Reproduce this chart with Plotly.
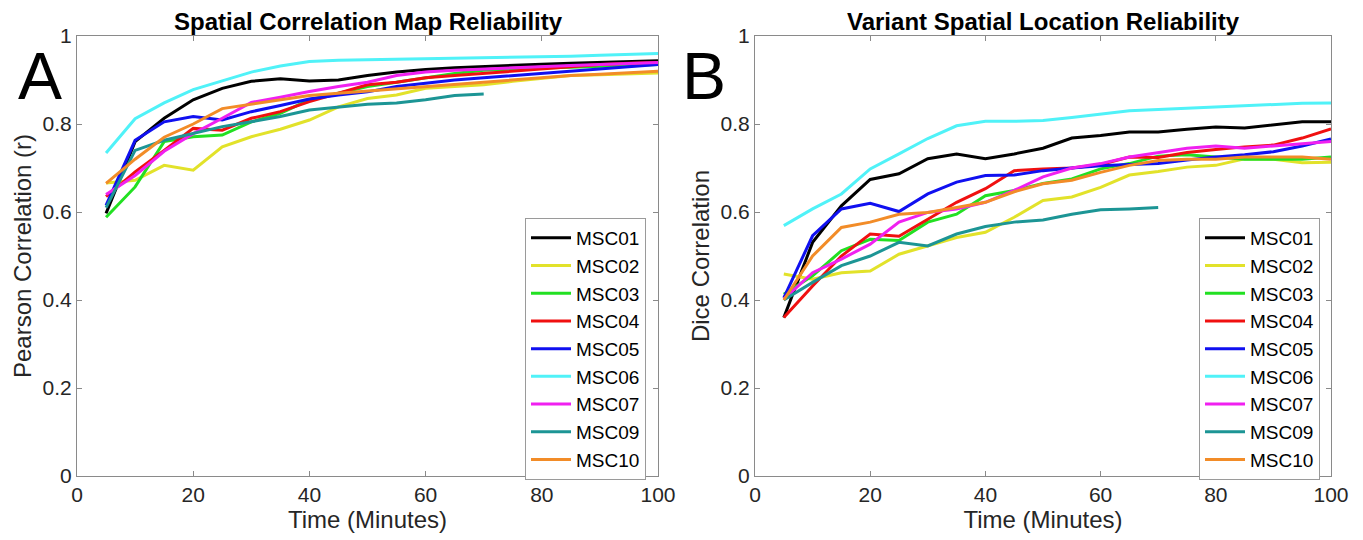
import plotly.graph_objects as go

# ---------------- data ----------------
subjects = ["MSC01", "MSC02", "MSC03", "MSC04", "MSC05", "MSC06", "MSC07", "MSC09", "MSC10"]
colors = ["#000000", "#e2e22a", "#22e022", "#f01010", "#1010f0", "#50f2f8", "#f020f0", "#1c9595", "#f28c28"]

time_full = [5, 10, 15, 20, 25, 30, 35, 40, 45, 50, 55, 60, 65, 70, 75, 80, 85, 90, 95, 100]
time_msc09 = [5, 10, 15, 20, 25, 30, 35, 40, 45, 50, 55, 60, 65, 70]

# Panel A: Pearson correlation (spatial correlation map reliability)
pearson_msc01 = [0.597, 0.760, 0.813, 0.855, 0.881, 0.897, 0.903, 0.898, 0.900, 0.910, 0.918, 0.924, 0.928, 0.931, 0.934, 0.936, 0.938, 0.940, 0.942, 0.944]
pearson_msc02 = [0.666, 0.672, 0.706, 0.695, 0.748, 0.771, 0.788, 0.809, 0.839, 0.858, 0.866, 0.881, 0.885, 0.889, 0.897, 0.904, 0.910, 0.912, 0.914, 0.916]
pearson_msc03 = [0.588, 0.657, 0.760, 0.771, 0.775, 0.805, 0.824, 0.855, 0.870, 0.885, 0.895, 0.905, 0.915, 0.922, 0.925, 0.927, 0.929, 0.931, 0.933, 0.935]
pearson_msc04 = [0.635, 0.691, 0.740, 0.790, 0.786, 0.813, 0.828, 0.851, 0.870, 0.889, 0.895, 0.905, 0.910, 0.915, 0.920, 0.925, 0.930, 0.935, 0.938, 0.940]
pearson_msc05 = [0.615, 0.763, 0.805, 0.817, 0.809, 0.828, 0.842, 0.857, 0.866, 0.873, 0.885, 0.893, 0.900, 0.905, 0.910, 0.915, 0.920, 0.925, 0.930, 0.935]
pearson_msc06 = [0.734, 0.812, 0.848, 0.878, 0.898, 0.918, 0.932, 0.942, 0.945, 0.946, 0.947, 0.948, 0.950, 0.951, 0.952, 0.953, 0.954, 0.956, 0.958, 0.960]
pearson_msc07 = [0.640, 0.683, 0.738, 0.778, 0.813, 0.849, 0.861, 0.874, 0.885, 0.895, 0.910, 0.918, 0.922, 0.925, 0.928, 0.930, 0.933, 0.935, 0.937, 0.940]
pearson_msc09 = [0.610, 0.740, 0.763, 0.778, 0.794, 0.805, 0.817, 0.832, 0.839, 0.845, 0.848, 0.855, 0.865, 0.868]
pearson_msc10 = [0.665, 0.720, 0.770, 0.800, 0.835, 0.845, 0.855, 0.865, 0.870, 0.875, 0.880, 0.885, 0.890, 0.895, 0.900, 0.905, 0.910, 0.913, 0.916, 0.920]

# Panel B: Dice correlation (variant spatial location reliability)
dice_msc01 = [0.360, 0.531, 0.614, 0.674, 0.687, 0.721, 0.732, 0.721, 0.732, 0.745, 0.768, 0.774, 0.782, 0.782, 0.788, 0.793, 0.791, 0.798, 0.805, 0.805]
dice_msc02 = [0.459, 0.447, 0.462, 0.466, 0.504, 0.523, 0.542, 0.554, 0.588, 0.626, 0.634, 0.656, 0.684, 0.692, 0.702, 0.706, 0.721, 0.720, 0.712, 0.713]
dice_msc03 = [0.413, 0.455, 0.512, 0.538, 0.535, 0.577, 0.595, 0.637, 0.649, 0.665, 0.675, 0.698, 0.710, 0.727, 0.730, 0.725, 0.720, 0.720, 0.720, 0.725]
dice_msc04 = [0.360, 0.432, 0.500, 0.550, 0.545, 0.584, 0.622, 0.653, 0.694, 0.698, 0.700, 0.708, 0.725, 0.724, 0.735, 0.742, 0.748, 0.752, 0.768, 0.789]
dice_msc05 = [0.405, 0.546, 0.607, 0.620, 0.601, 0.641, 0.668, 0.683, 0.684, 0.694, 0.700, 0.705, 0.708, 0.710, 0.718, 0.725, 0.730, 0.737, 0.750, 0.766]
dice_msc06 = [0.569, 0.607, 0.641, 0.698, 0.732, 0.767, 0.796, 0.806, 0.806, 0.808, 0.815, 0.822, 0.830, 0.833, 0.836, 0.839, 0.841, 0.844, 0.847, 0.848]
dice_msc07 = [0.402, 0.462, 0.493, 0.527, 0.577, 0.599, 0.607, 0.622, 0.649, 0.680, 0.700, 0.710, 0.725, 0.735, 0.745, 0.750, 0.745, 0.750, 0.755, 0.760]
dice_msc09 = [0.400, 0.440, 0.478, 0.500, 0.531, 0.523, 0.550, 0.567, 0.577, 0.582, 0.595, 0.605, 0.607, 0.610]
dice_msc10 = [0.400, 0.500, 0.565, 0.577, 0.595, 0.599, 0.610, 0.622, 0.646, 0.664, 0.672, 0.690, 0.706, 0.717, 0.720, 0.720, 0.725, 0.725, 0.725, 0.720]

pearson_series = [pearson_msc01, pearson_msc02, pearson_msc03, pearson_msc04, pearson_msc05,
                  pearson_msc06, pearson_msc07, pearson_msc09, pearson_msc10]
dice_series = [dice_msc01, dice_msc02, dice_msc03, dice_msc04, dice_msc05,
               dice_msc06, dice_msc07, dice_msc09, dice_msc10]

x_ticks = [0, 20, 40, 60, 80, 100]
y_ticks = [0, 0.2, 0.4, 0.6, 0.8, 1]
y_tick_text = ["0", "0.2", "0.4", "0.6", "0.8", "1"]

# ---------------- figure ----------------
W, H = 1363, 540
OFF = 8  # page body margin offset


def fx(px):
    return (px - OFF) / W


def fy(py):
    return 1 - (py - OFF) / H


FONT = "Liberation Sans, Arial, Helvetica, sans-serif"
fig = go.Figure()

for name, col, ys in zip(subjects, colors, pearson_series):
    xs = time_msc09 if name == "MSC09" else time_full
    fig.add_trace(go.Scatter(x=xs, y=ys, mode="lines", name=name,
                             line=dict(color=col, width=3),
                             xaxis="x", yaxis="y", legend="legend"))
for name, col, ys in zip(subjects, colors, dice_series):
    xs = time_msc09 if name == "MSC09" else time_full
    fig.add_trace(go.Scatter(x=xs, y=ys, mode="lines", name=name,
                             line=dict(color=col, width=3),
                             xaxis="x2", yaxis="y2", legend="legend2"))

axis_common = dict(
    showline=True, linecolor="#8a8a8a", linewidth=1, mirror="ticks",
    ticks="inside", ticklen=5, tickcolor="#8a8a8a", tickwidth=1,
    showgrid=False, zeroline=False, automargin=False,
    tickfont=dict(family=FONT, size=21, color="#262626"),
)
title_font = dict(size=24, family=FONT, color="#262626")

ydom = [fy(476), fy(36)]
legend_common = dict(xanchor="left", yanchor="top",
                     bgcolor="white", bordercolor="#9a9a9a", borderwidth=1,
                     font=dict(family=FONT, size=19, color="#000000"),
                     itemwidth=40, tracegroupgap=0)
fig.update_layout(
    width=W, height=H,
    margin=dict(l=0, r=0, t=0, b=0),
    paper_bgcolor="white", plot_bgcolor="white",
    font=dict(family=FONT, color="#262626"),
    xaxis=dict(domain=[fx(77), fx(658)], range=[0, 100], tickvals=x_ticks,
               title=dict(text="Time (Minutes)", font=title_font, standoff=4),
               anchor="y", **axis_common),
    yaxis=dict(domain=ydom, range=[0, 1], tickvals=y_ticks, ticktext=y_tick_text,
               title=dict(text="Pearson Correlation (r)", font=title_font, standoff=4),
               anchor="x", **axis_common),
    xaxis2=dict(domain=[fx(755), fx(1331)], range=[0, 100], tickvals=x_ticks,
                title=dict(text="Time (Minutes)", font=title_font, standoff=4),
                anchor="y2", **axis_common),
    yaxis2=dict(domain=ydom, range=[0, 1], tickvals=y_ticks, ticktext=y_tick_text,
                title=dict(text="Dice Correlation", font=title_font, standoff=4),
                anchor="x2", **axis_common),
    legend=dict(x=fx(525), y=fy(218), **legend_common),
    legend2=dict(x=fx(1199), y=fy(218), **legend_common),
    showlegend=True,
)

annotations = [
    dict(text="<b>Spatial Correlation Map Reliability</b>", x=fx(368), y=fy(22),
         xref="paper", yref="paper", showarrow=False, xanchor="center", yanchor="middle",
         font=dict(family=FONT, size=24, color="#000000")),
    dict(text="<b>Variant Spatial Location Reliability</b>", x=fx(1043), y=fy(22),
         xref="paper", yref="paper", showarrow=False, xanchor="center", yanchor="middle",
         font=dict(family=FONT, size=24, color="#000000")),
    dict(text="A", x=fx(40), y=fy(76), xref="paper", yref="paper", showarrow=False,
         xanchor="center", yanchor="middle", font=dict(family=FONT, size=66, color="#000000")),
    dict(text="B", x=fx(704), y=fy(76), xref="paper", yref="paper", showarrow=False,
         xanchor="center", yanchor="middle", font=dict(family=FONT, size=66, color="#000000")),
]
fig.update_layout(annotations=annotations)

fig.write_html("out.html")
